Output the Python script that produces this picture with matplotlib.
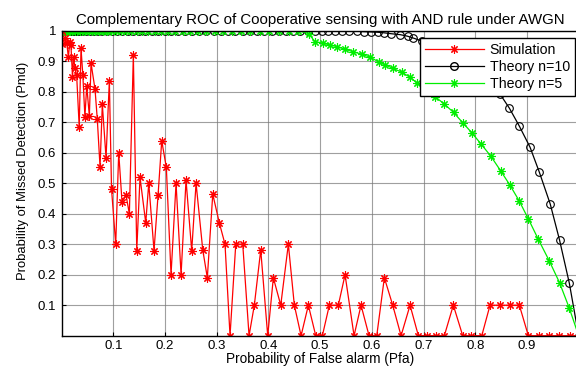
import numpy as np
import matplotlib.pyplot as plt
from matplotlib.lines import Line2D

plt.rcParams['font.family'] = ['Liberation Sans', 'DejaVu Sans']

# ============================================================
#  DATA
# ============================================================
sim_pfa = [0.0, 0.0002, 0.0066, 0.0099, 0.013, 0.016, 0.018, 0.021, 0.023, 0.026,
           0.029, 0.034, 0.0375, 0.041, 0.045, 0.0486, 0.0536, 0.0569, 0.0646, 0.069,
           0.0743, 0.0787, 0.0859, 0.0923, 0.0965, 0.1046, 0.1104, 0.1168, 0.1246, 0.131,
           0.1387, 0.1453, 0.1516, 0.1627, 0.1685, 0.1787, 0.1865, 0.1936, 0.2025, 0.2116,
           0.2213, 0.231, 0.2406, 0.2516, 0.26, 0.273, 0.2818, 0.2923, 0.305, 0.316,
           0.3257, 0.3368, 0.3503, 0.3625, 0.3727, 0.3851, 0.3986, 0.4095, 0.4238, 0.4385,
           0.4501, 0.4631, 0.4772, 0.4915, 0.5043, 0.5178, 0.5352, 0.5482, 0.5656, 0.5791,
           0.5946, 0.6095, 0.6242, 0.6404, 0.6565, 0.6739, 0.69, 0.7068, 0.7242, 0.7402,
           0.7576, 0.7758, 0.7919, 0.8126, 0.8286, 0.848, 0.8673, 0.8853, 0.9027, 0.924,
           0.9433, 0.9627, 0.9834, 1.0]
sim_pmd = [1.0, 0.957, 0.976, 0.96, 0.914, 0.964, 0.953, 0.849, 0.913, 0.877,
           0.855, 0.685, 0.942, 0.855, 0.718, 0.819, 0.72, 0.893, 0.808, 0.709,
           0.553, 0.759, 0.583, 0.836, 0.481, 0.30, 0.60, 0.439, 0.461, 0.399,
           0.92, 0.279, 0.519, 0.37, 0.50, 0.279, 0.461, 0.639, 0.552, 0.20,
           0.50, 0.20, 0.51, 0.279, 0.50, 0.281, 0.19, 0.464, 0.37, 0.30,
           0.0, 0.30, 0.30, 0.0, 0.10, 0.281, 0.0, 0.19, 0.10, 0.30,
           0.10, 0.0, 0.10, 0.0, 0.0, 0.10, 0.10, 0.20, 0.0, 0.10,
           0.0, 0.0, 0.19, 0.10, 0.0, 0.10, 0.0, 0.0, 0.0, 0.0,
           0.10, 0.0, 0.0, 0.0, 0.10, 0.10, 0.10, 0.10, 0.0, 0.0,
           0.0, 0.0, 0.0, 0.0]

th10_pfa = [0.0, 0.002, 0.004, 0.007, 0.01, 0.014, 0.018, 0.023, 0.028, 0.034,
            0.04, 0.047, 0.054, 0.062, 0.07, 0.079, 0.088, 0.097, 0.107, 0.117,
            0.128, 0.139, 0.15, 0.162, 0.174, 0.186, 0.199, 0.212, 0.225, 0.238,
            0.252, 0.266, 0.28, 0.294, 0.308, 0.322, 0.336, 0.35, 0.364, 0.378,
            0.392, 0.406, 0.42, 0.434, 0.448, 0.462, 0.476, 0.49, 0.503, 0.516,
            0.529, 0.542, 0.556, 0.571, 0.584, 0.598, 0.611, 0.624, 0.638, 0.655,
            0.669, 0.68, 0.697, 0.714, 0.731, 0.748, 0.765, 0.782, 0.799, 0.816,
            0.832, 0.848, 0.866, 0.885, 0.906, 0.924, 0.945, 0.963, 0.982, 1.0]
th10_pmd = [1.0] * 47 + [1.0, 1.0, 1.0,
            1.0, 0.999, 0.999, 0.998, 0.997, 0.996, 0.995, 0.993, 0.99, 0.987,
            0.982, 0.976, 0.966, 0.955, 0.942, 0.927, 0.909, 0.889, 0.866, 0.845,
            0.82, 0.792, 0.746, 0.688, 0.618, 0.536, 0.432, 0.314, 0.172, 0.0]

th5_pfa = [0.0, 0.001, 0.002, 0.004, 0.006, 0.008, 0.011, 0.014, 0.017, 0.021,
           0.025, 0.03, 0.035, 0.04, 0.046, 0.052, 0.058, 0.065, 0.072, 0.08,
           0.088, 0.096, 0.105, 0.114, 0.124, 0.134, 0.145, 0.156, 0.168, 0.18,
           0.193, 0.206, 0.22, 0.234, 0.249, 0.264, 0.28, 0.296, 0.313, 0.33,
           0.347, 0.365, 0.383, 0.401, 0.42, 0.439, 0.458, 0.478, 0.49, 0.506,
           0.519, 0.532, 0.548, 0.564, 0.58, 0.597, 0.613, 0.626, 0.64, 0.658,
           0.674, 0.688, 0.705, 0.722, 0.74, 0.758, 0.776, 0.793, 0.811, 0.83,
           0.849, 0.867, 0.885, 0.903, 0.922, 0.943, 0.963, 0.982, 1.0]
th5_pmd = [1.0] * 47 + [0.99, 0.964, 0.959,
           0.953, 0.948, 0.939, 0.931, 0.923, 0.913, 0.898, 0.888, 0.877, 0.864,
           0.847, 0.828, 0.806, 0.784, 0.76, 0.732, 0.698, 0.666, 0.629, 0.589,
           0.541, 0.494, 0.442, 0.382, 0.316, 0.246, 0.174, 0.09, 0.0]

x_ticks = [0.1, 0.2, 0.3, 0.4, 0.5, 0.6, 0.7, 0.8, 0.9]
y_ticks = [0.1, 0.2, 0.3, 0.4, 0.5, 0.6, 0.7, 0.8, 0.9, 1.0]
y_ticklabels = ['0.1', '0.2', '0.3', '0.4', '0.5', '0.6', '0.7', '0.8', '0.9', '1']

# ============================================================
#  FIGURE
# ============================================================
fig = plt.figure(figsize=(5.76, 3.69), dpi=100)
# axes run a little past the right edge, as in the cropped original
ax = fig.add_axes([0.107, 0.0902, 0.8976, 0.8266])

star = (8, 2, 0)
ax.plot(th10_pfa, th10_pmd, color='black', lw=0.9, marker='o', ms=5.5,
        mfc='none', mec='black', mew=0.8, label='Theory n=10')
ax.plot(th5_pfa, th5_pmd, color='#00ee00', lw=0.9, marker=star, ms=6,
        mec='#00ee00', mew=0.8, label='Theory n=5')
ax.plot(sim_pfa, sim_pmd, color='red', lw=0.9, marker=star, ms=6,
        mec='red', mew=0.8, label='Simulation')

ax.set_xlim(0, 1)
ax.set_ylim(0, 1)
ax.set_xticks(x_ticks)
ax.set_yticks(y_ticks)
ax.set_yticklabels(y_ticklabels)
ax.tick_params(direction='in', labelsize=9.5, length=3, pad=4)
ax.tick_params(axis='x', pad=3)
ax.grid(True, color='#777777', lw=0.8, alpha=0.7)
for s in ax.spines.values():
    s.set_linewidth(1.0)

ax.set_title('Complementary ROC of Cooperative sensing with AND rule under AWGN',
             fontsize=10.8, pad=5)
ax.set_xlabel('Probability of False alarm (Pfa)', fontsize=9.8, labelpad=0)
ax.set_ylabel('Probability of Missed Detection (Pmd)', fontsize=9.4)
ax.yaxis.set_label_coords(-0.063, 0.54)

handles = [
    Line2D([], [], color='red', lw=0.9, marker=star, ms=6, mec='red', mew=0.8),
    Line2D([], [], color='black', lw=0.9, marker='o', ms=5.5, mfc='none', mec='black'),
    Line2D([], [], color='#00ee00', lw=0.9, marker=star, ms=6, mec='#00ee00', mew=0.8),
]
leg = ax.legend(handles, ['Simulation', 'Theory n=10', 'Theory n=5'],
                loc='upper right', bbox_to_anchor=(0.998, 0.897),
                bbox_transform=fig.transFigure, fontsize=10.2, fancybox=False,
                framealpha=1, edgecolor='black', handlelength=4.2,
                borderpad=0.35, labelspacing=0.2, handletextpad=0.4,
                borderaxespad=0)
leg.get_frame().set_linewidth(1.0)

fig.savefig('out.png', dpi=100)
